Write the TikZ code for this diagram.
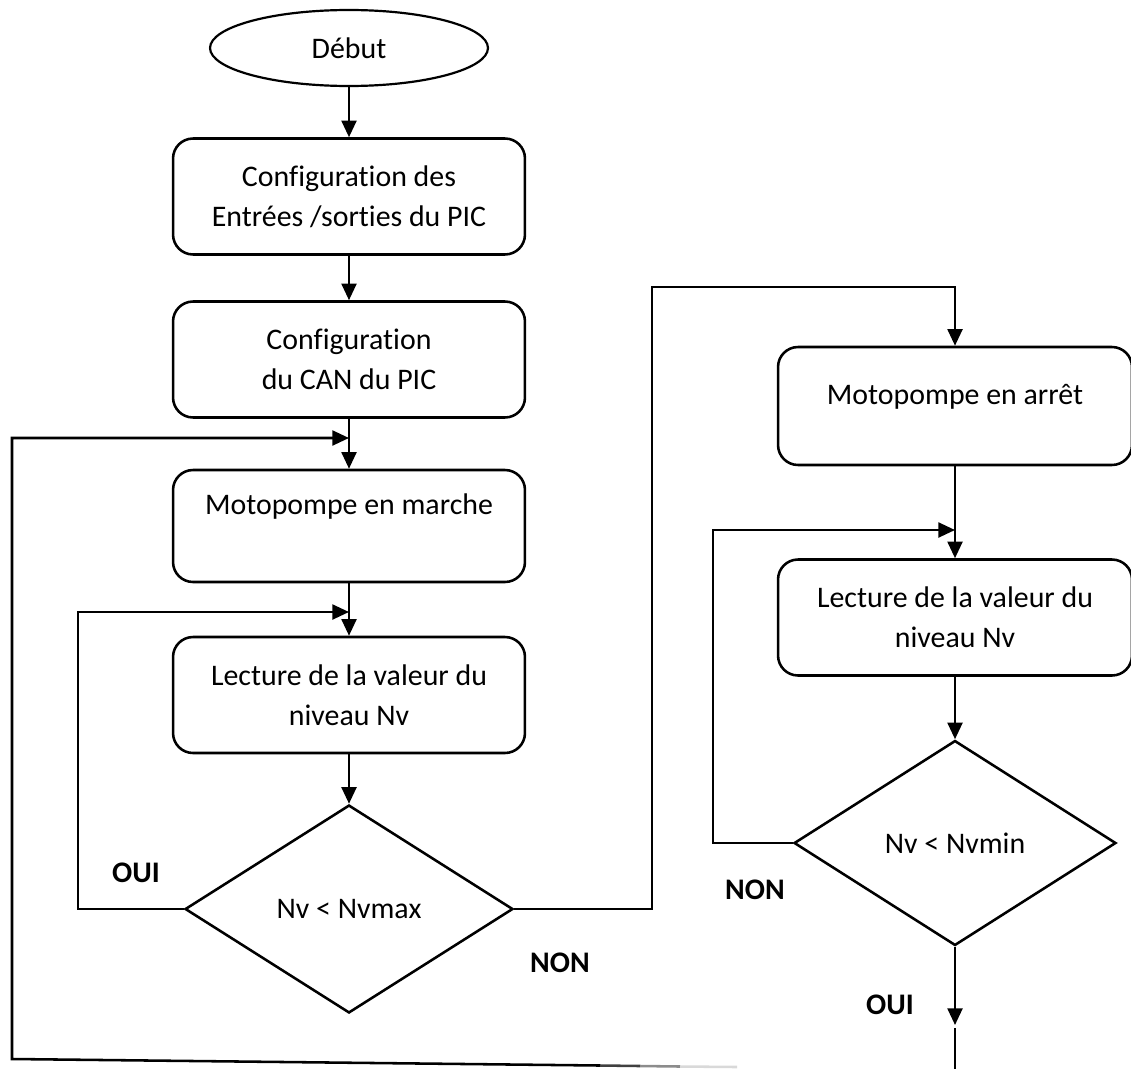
\documentclass[tikz,border=0pt]{standalone}
\usepackage{fontspec}
\setmainfont{Carlito}[Ligatures=NoCommon]
\usetikzlibrary{shapes.geometric,arrows.meta,calc}
\begin{document}
\begin{tikzpicture}[x=0.02cm,y=-0.02cm,
  every node/.style={font=\fontsize{17}{23}\selectfont},
  line/.style={line width=1.45pt},
  arr/.style={line width=1.45pt, -{Triangle[length=9.5pt,width=8.5pt]}},
  box/.style={draw, line width=1.45pt, rounded corners=0.4cm, minimum width=7.04cm, minimum height=2.32cm, align=center, inner sep=0pt},
  term/.style={draw, ellipse, line width=1.25pt, minimum width=5.56cm, minimum height=1.52cm, inner sep=0pt},
  decision/.style={draw, diamond, line width=1.45pt, minimum width=6.56cm, minimum height=4.16cm, inner sep=0pt},
  lbl/.style={font=\fontsize{17}{23}\selectfont\bfseries}]
\useasboundingbox (0,0) rectangle (1131,1068);
% left column
\node[term] (start) at (349,48) {Début};
\node[box] (b1) at (349,196.5) {Configuration des\\Entrées /sorties du PIC};
\node[box] (b2) at (349,359.5) {Configuration\\du CAN du PIC};
\node[box,minimum height=2.24cm] (b3) at (349,526) {};
\node (t3) at (349,507) {Motopompe en marche};
\node[box] (b4) at (349,695) {Lecture de la valeur du\\niveau Nv};
\node[decision] (d1) at (349,909) {Nv < Nvmax};
% right column
\node[box,minimum width=7.08cm,minimum height=2.36cm] (b5) at (955,406) {};
\node (t5) at (955,397) {Motopompe en arrêt};
\node[box,minimum width=7.08cm] (b6) at (955,617.5) {Lecture de la valeur du\\niveau Nv};
\node[decision,minimum width=6.44cm,minimum height=4.1cm] (d2) at (955,843) {Nv < Nvmin};
% labels
\node[lbl] (oui1) at (136,873) {OUI};
\node[lbl] (non1) at (560,963) {NON};
\node[lbl] (non2) at (755,890) {NON};
\node[lbl] (oui2) at (890,1005) {OUI};
% straight connectors
\draw[arr] (start.south) -- (b1.north);
\draw[arr] (b1.south) -- (b2.north);
\draw[arr] (b2.south) -- (b3.north);
\draw[arr] (b3.south) -- (b4.north);
\draw[arr] (b4.south) -- (d1.north);
\draw[arr] (b5.south) -- (b6.north);
\draw[arr] (b6.south) -- (d2.north);
% big return loop
\coordinate (bEnd) at (600,1065.5);
\coordinate (l1a) at (12,1059);
\coordinate (l1) at (12,438);
\draw[arr] (bEnd) -- (l1a) -- (l1) -- (b3.north |- l1);
\coordinate (f1) at (640,1066);
\coordinate (f2) at (680,1066.5);
\coordinate (f3) at (737,1067);
\draw[line,black!75] (bEnd) -- (f1);
\draw[line,black!45] (f1) -- (f2);
\draw[line,black!15] (f2) -- (f3);
% OUI loop of first decision
\coordinate (l2) at (78,612);
\draw[arr] (d1.west) -| (l2) -- (b4.north |- l2);
% NON of first decision
\coordinate (n1) at (652,287);
\draw[arr] (d1.east) -| (n1) -- (b5.north |- n1) -- (b5.north);
% NON loop of second decision
\coordinate (l3) at (713,530);
\draw[arr] (d2.west) -| (l3) -- (b6.north |- l3);
% OUI exit of second decision
\coordinate (o1) at (955,1025);
\coordinate (o2) at (955,1028);
\coordinate (o3) at (955,1075);
\draw[arr] (d2.south) -- (o1);
\draw[line] (o2) -- (o3);
\end{tikzpicture}
\end{document}
